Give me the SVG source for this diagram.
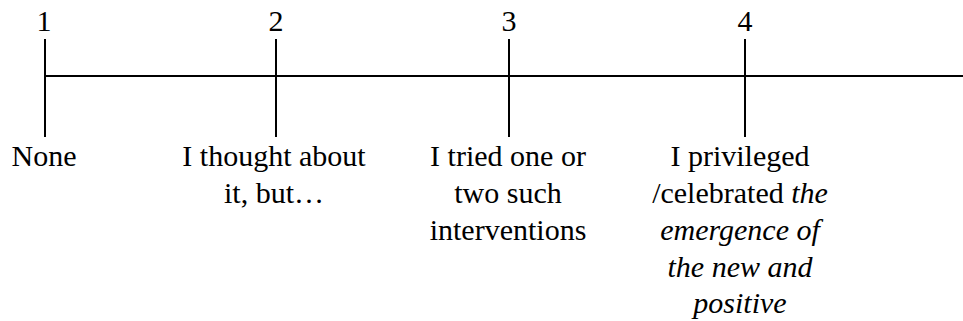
<svg xmlns="http://www.w3.org/2000/svg" width="963" height="321" viewBox="0 0 963 321">
<style>
.t{font-family:"Liberation Serif","Times New Roman",serif;font-size:30px;fill:#000;text-anchor:middle}
.i{font-style:italic}
.ln{stroke:#000;stroke-width:2;fill:none}
</style>
<rect width="963" height="321" fill="#fff"/>
<g id="connectors">
<line class="ln" x1="44" y1="76" x2="963" y2="76"/>
</g>
<g id="node1">
<line class="ln" x1="45" y1="39" x2="45" y2="137"/>
<text class="t" x="44" y="31">1</text>
<text class="t" x="44" y="166">None</text>
</g>
<g id="node2">
<line class="ln" x1="276" y1="39" x2="276" y2="137"/>
<text class="t" x="276" y="31">2</text>
<text class="t" x="274" y="166">I thought about</text>
<text class="t" x="274" y="203">it, but…</text>
</g>
<g id="node3">
<line class="ln" x1="509" y1="39" x2="509" y2="137"/>
<text class="t" x="509" y="31">3</text>
<text class="t" x="508" y="166">I tried one or</text>
<text class="t" x="508" y="203">two such</text>
<text class="t" x="508" y="240">interventions</text>
</g>
<g id="node4">
<line class="ln" x1="745" y1="39" x2="745" y2="137"/>
<text class="t" x="745" y="31">4</text>
<text class="t" x="740" y="166">I privileged</text>
<text class="t" x="740" y="203">/celebrated <tspan class="i">the</tspan></text>
<text class="t i" x="740" y="240">emergence of</text>
<text class="t i" x="740" y="277">the new and</text>
<text class="t i" x="740" y="313">positive</text>
</g>
</svg>
